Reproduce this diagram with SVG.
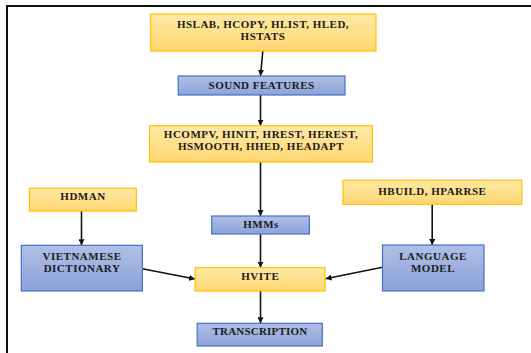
<svg xmlns="http://www.w3.org/2000/svg" width="531" height="353" viewBox="0 0 531 353">
<defs>
<linearGradient id="og" x1="0" y1="0" x2="0" y2="1">
<stop offset="0" stop-color="#FFE9A6"/>
<stop offset="1" stop-color="#FFD772"/>
</linearGradient>
<linearGradient id="bg" x1="0" y1="0" x2="0" y2="1">
<stop offset="0" stop-color="#B0BFE6"/>
<stop offset="1" stop-color="#8DA2DA"/>
</linearGradient>
<marker id="ah" viewBox="0 0 10 10" refX="10" refY="5" markerWidth="6" markerHeight="6" markerUnits="userSpaceOnUse" orient="auto">
<path d="M0,0 L10,5 L0,10 z" fill="#111"/>
</marker>
</defs>
<style>
.o{fill:url(#og);stroke:#FFC000;stroke-width:1.2}
.b{fill:url(#bg);stroke:#4472C4;stroke-width:1.2}
text{font-family:"Liberation Serif","Times New Roman",serif;font-weight:bold;font-size:11px;fill:#1a1a1a;text-anchor:middle;letter-spacing:0.5px}
.c{stroke:#111;stroke-width:1.6;fill:none;marker-end:url(#ah)}
</style>
<rect width="531" height="353" fill="#fff"/>
<g id="frame">
<line x1="6" y1="6" x2="531" y2="6" stroke="#111" stroke-width="2"/>
<line x1="7" y1="5" x2="7" y2="353" stroke="#111" stroke-width="2"/>
</g>
<g id="connectors">
<line class="c" x1="262.8" y1="51" x2="260.5" y2="76"/>
<line class="c" x1="260.5" y1="95" x2="260.5" y2="125.7"/>
<line class="c" x1="260.5" y1="162" x2="260.5" y2="216"/>
<line class="c" x1="260.5" y1="234" x2="260.5" y2="267.7"/>
<line class="c" x1="260.5" y1="291" x2="260.5" y2="323.3"/>
<line class="c" x1="81.5" y1="211" x2="81.5" y2="245.3"/>
<line class="c" x1="432.2" y1="204.3" x2="432.2" y2="245"/>
<line class="c" x1="142.4" y1="268.7" x2="195" y2="279"/>
<line class="c" x1="382.5" y1="267.3" x2="325.5" y2="278.7"/>
</g>
<g id="n-hslab">
<rect class="o" x="150.5" y="14" width="225.5" height="37"/>
<text x="263" y="28">HSLAB, HCOPY, HLIST, HLED,</text>
<text x="263" y="40">HSTATS</text>
</g>
<g id="n-sound">
<rect class="b" x="178.2" y="76" width="166.8" height="19"/>
<text x="261.6" y="88.5">SOUND FEATURES</text>
</g>
<g id="n-hcompv">
<rect class="o" x="149.5" y="125.7" width="222.8" height="36.3"/>
<text x="261" y="138">HCOMPV, HINIT, HREST, HEREST,</text>
<text x="261" y="149.5">HSMOOTH, HHED, HEADAPT</text>
</g>
<g id="n-hdman">
<rect class="o" x="29.4" y="188.3" width="106.9" height="22.7"/>
<text x="83" y="199.5">HDMAN</text>
</g>
<g id="n-hbuild">
<rect class="o" x="343" y="180.3" width="178.8" height="24"/>
<text x="432.4" y="194.5">HBUILD, HPARRSE</text>
</g>
<g id="n-hmms">
<rect class="b" x="211.7" y="216" width="97.7" height="18"/>
<text x="261" y="227.5">HMMs</text>
</g>
<g id="n-vdict">
<rect class="b" x="21.3" y="245.3" width="121.1" height="45.7"/>
<text x="82" y="260">VIETNAMESE</text>
<text x="82" y="271.5">DICTIONARY</text>
</g>
<g id="n-lm">
<rect class="b" x="382.5" y="245" width="101.5" height="46"/>
<text x="433" y="260">LANGUAGE</text>
<text x="433" y="271.5">MODEL</text>
</g>
<g id="n-hvite">
<rect class="o" x="195.1" y="267.7" width="129.9" height="23.3"/>
<text x="260.3" y="280">HVITE</text>
</g>
<g id="n-trans">
<rect class="b" x="197.2" y="323.3" width="125.1" height="22.7"/>
<text x="260" y="334.5" style="letter-spacing:0.2px">TRANSCRIPTION</text>
</g>
</svg>
